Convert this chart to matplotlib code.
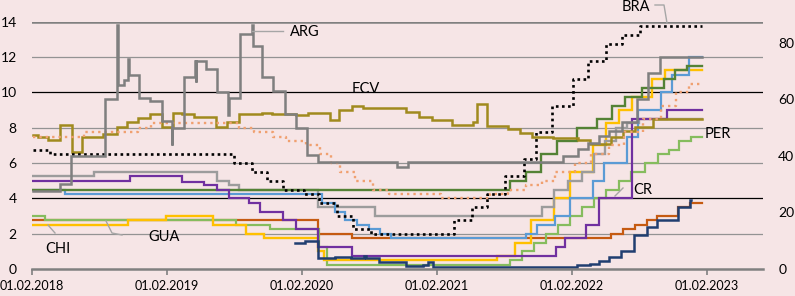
import matplotlib
matplotlib.use('Agg')
import matplotlib.pyplot as plt
import pandas as pd
from matplotlib.lines import Line2D

plt.rcParams['font.family'] = ['Lato', 'DejaVu Sans']

W, H = 795, 296
END = '2023-01-20'

# ---- left axis series (policy rate, %) ----
bra_dates = ['2018-02-05', '2018-03-22', '2019-08-01', '2019-09-19', '2019-10-31', '2019-12-12',
             '2020-02-06', '2020-03-19', '2020-05-07', '2020-06-18', '2020-08-06', '2021-03-18',
             '2021-05-06', '2021-06-17', '2021-08-05', '2021-09-23', '2021-10-28', '2021-12-09',
             '2022-02-03', '2022-03-17', '2022-05-05', '2022-06-16', '2022-08-04']
bra_vals = [6.75, 6.5, 6.0, 5.5, 5.0, 4.5, 4.25, 3.75, 3.0, 2.25, 2.0, 2.75,
            3.5, 4.25, 5.25, 6.25, 7.75, 9.25, 10.75, 11.75, 12.75, 13.25, 13.75]

mex_dates = ['2018-02-05', '2018-06-21', '2018-11-15', '2018-12-20', '2019-08-15', '2019-09-26',
             '2019-11-14', '2019-12-19', '2020-02-13', '2020-03-20', '2020-04-21', '2020-05-14',
             '2020-06-25', '2020-08-13', '2020-09-24', '2021-02-11', '2021-06-24', '2021-08-12',
             '2021-09-30', '2021-11-11', '2021-12-16', '2022-02-10', '2022-03-24', '2022-05-12',
             '2022-06-23', '2022-08-11', '2022-09-29', '2022-11-10', '2022-12-15']
mex_vals = [7.5, 7.75, 8.0, 8.25, 8.0, 7.75, 7.5, 7.25, 7.0, 6.5, 6.0, 5.5, 5.0, 4.5, 4.25,
            4.0, 4.25, 4.5, 4.75, 5.0, 5.5, 6.0, 6.5, 7.0, 7.75, 8.5, 9.25, 10.0, 10.5]

ecv_dates = ['2018-02-05', '2018-02-17', '2018-03-15', '2018-04-17', '2018-05-19', '2018-06-15',
             '2018-08-11', '2018-09-18', '2018-10-15', '2018-11-14', '2018-12-16', '2019-01-18',
             '2019-02-17', '2019-03-15', '2019-04-16', '2019-06-15', '2019-07-14', '2019-08-16',
             '2019-10-17', '2019-11-13', '2020-01-16', '2020-02-17', '2020-04-16', '2020-05-13',
             '2020-06-15', '2020-07-15', '2020-11-10', '2020-12-15', '2021-01-17', '2021-03-14',
             '2021-05-08', '2021-05-19', '2021-06-17', '2021-08-11', '2021-09-13', '2021-10-17',
             '2021-12-11', '2022-02-18', '2022-03-22', '2022-05-19', '2022-06-18', '2022-07-21',
             '2022-09-07']
ecv_vals = [7.6, 7.45, 7.3, 8.15, 6.6, 7.45, 7.65, 8.05, 8.3, 8.55, 8.75, 8.05,
            8.85, 8.8, 8.6, 8.05, 8.3, 8.75, 8.85, 8.75, 8.7, 8.85, 8.45, 9.0,
            9.2, 9.1, 8.9, 8.6, 8.45, 8.15, 8.3, 9.35, 8.1, 7.95, 7.7, 7.5,
            7.4, 7.3, 7.1, 7.5, 7.8, 8.05, 8.5]

dom_dates = ['2018-02-05', '2018-07-20', '2019-06-17', '2019-07-18', '2019-08-14', '2020-03-15',
             '2020-08-16', '2021-11-13', '2021-12-14', '2022-01-20', '2022-03-01', '2022-04-01',
             '2022-05-01', '2022-06-01', '2022-07-01', '2022-08-01']
dom_vals = [5.25, 5.5, 5.0, 4.75, 4.5, 3.5, 3.0, 3.5, 4.5, 5.0, 5.5, 6.5, 7.25, 8.0, 8.25, 8.5]

col_dates = ['2018-02-05', '2018-04-30', '2020-03-27', '2020-04-30', '2020-05-29', '2020-06-29',
             '2020-07-31', '2020-08-31', '2020-09-30', '2021-09-30', '2021-10-29', '2021-12-17',
             '2022-01-28', '2022-03-31', '2022-04-29', '2022-06-30', '2022-07-29', '2022-09-30',
             '2022-10-31', '2022-12-16']
col_vals = [4.5, 4.25, 3.75, 3.25, 2.75, 2.5, 2.25, 2.0, 1.75, 2.0, 2.5, 3.0,
            4.0, 5.0, 6.0, 7.5, 9.0, 10.0, 11.0, 12.0]

uru_dates = ['2018-02-05', '2021-08-18', '2021-09-29', '2021-11-10', '2021-12-22', '2022-02-16',
             '2022-04-10', '2022-05-21', '2022-06-25', '2022-08-09', '2022-10-08', '2022-11-07',
             '2022-12-10']
uru_vals = [4.5, 5.0, 5.5, 6.5, 7.25, 8.0, 8.5, 9.25, 9.75, 10.25, 10.75, 11.25, 11.5]

chi_dates = ['2018-02-05', '2018-10-18', '2019-01-30', '2019-06-07', '2019-09-04', '2019-10-23',
             '2020-03-16', '2020-03-31', '2021-07-14', '2021-08-31', '2021-10-13', '2021-12-14',
             '2022-01-26', '2022-03-29', '2022-05-04', '2022-06-08', '2022-07-13', '2022-09-06',
             '2022-10-12']
chi_vals = [2.5, 2.75, 3.0, 2.5, 2.0, 1.75, 1.0, 0.5, 0.75, 1.5, 2.75, 4.0,
            5.5, 7.0, 8.25, 9.0, 9.75, 10.75, 11.25]

per_dates = ['2018-02-05', '2018-03-08', '2019-08-08', '2019-11-07', '2020-03-19', '2020-04-09',
             '2021-08-17', '2021-09-19', '2021-10-22', '2021-11-24', '2021-12-26', '2022-01-28',
             '2022-03-01', '2022-04-03', '2022-05-05', '2022-06-07', '2022-07-10', '2022-08-19',
             '2022-09-21', '2022-10-21', '2022-11-17', '2022-12-20']
per_vals = [3.0, 2.75, 2.5, 2.25, 1.25, 0.25, 0.5, 1.0, 1.5, 2.0, 2.5, 3.0,
            3.5, 4.0, 4.5, 5.0, 5.5, 6.0, 6.5, 6.75, 7.25, 7.5]

gua_dates = ['2018-02-05', '2020-03-15', '2020-06-15', '2022-05-19', '2022-06-18', '2022-07-21',
             '2022-08-23', '2022-09-19', '2022-11-15', '2022-12-18']
gua_vals = [2.75, 2.0, 1.75, 2.0, 2.25, 2.5, 2.75, 3.0, 3.5, 3.75]

cr_dates = ['2018-02-05', '2018-10-25', '2019-03-15', '2019-05-12', '2019-06-17', '2019-07-18',
            '2019-09-10', '2019-10-12', '2019-12-12', '2020-01-16', '2020-03-15', '2020-06-15',
            '2021-12-20', '2022-01-13', '2022-03-12', '2022-04-16', '2022-07-14', '2022-10-15']
cr_vals = [5.0, 5.25, 4.95, 4.75, 4.5, 4.0, 3.75, 3.25, 2.75, 2.25, 1.25, 0.75,
           1.25, 1.75, 2.5, 4.0, 8.5, 9.0]

oth_dates = ['2020-01-13', '2020-02-09', '2020-03-15', '2020-05-01', '2020-06-12', '2020-07-17',
             '2020-07-25', '2020-08-27', '2020-11-09', '2020-12-25', '2021-01-08', '2021-01-20',
             '2022-02-15', '2022-03-23', '2022-04-16', '2022-05-13', '2022-06-15', '2022-07-20',
             '2022-08-22', '2022-09-18', '2022-11-14', '2022-12-17']
oth_vals = [1.45, 1.6, 0.62, 0.7, 0.65, 0.75, 0.6, 0.4, 0.15, 0.25, 0.4, 0.1,
            0.2, 0.3, 0.45, 0.7, 1.0, 1.93, 2.38, 2.8, 3.5, 3.9]
OTH_END = '2022-12-19'

# ---- right axis series (%) ----
arg_dates = ['2018-02-05', '2018-04-18', '2018-05-18', '2018-08-18', '2018-09-19', '2018-09-21',
             '2018-10-08', '2018-10-19', '2018-10-21', '2018-11-18', '2018-12-18', '2019-01-18',
             '2019-02-14', '2019-02-16', '2019-03-19', '2019-04-17', '2019-04-20', '2019-04-22',
             '2019-05-17', '2019-06-16', '2019-07-16', '2019-07-18', '2019-08-17', '2019-09-19',
             '2019-09-21', '2019-10-16', '2019-11-15', '2019-12-17', '2020-01-16', '2020-02-15',
             '2020-03-15', '2020-10-15', '2020-11-14', '2022-01-09', '2022-02-17', '2022-03-17',
             '2022-04-14', '2022-05-12', '2022-06-16', '2022-07-26', '2022-08-27', '2022-09-28']
arg_vals = [27.5, 30.25, 40, 60, 86.25, 65, 66.9, 74.4, 68.75, 60.6, 59.4, 52.5,
            43.75, 50, 68.1, 73.75, 66.25, 73.75, 70.6, 62.5, 54.4, 60.6, 83.1, 86.25,
            78.75, 67.8, 63.1, 55, 50, 40.2, 38, 36, 38, 40, 42.5, 44.5,
            47, 49, 52, 60, 69.5, 75]

years = ['2018-02-01', '2019-02-01', '2020-02-01', '2021-02-01', '2022-02-01', '2023-02-01']
left_ticks = [0, 2, 4, 6, 8, 10, 12, 14]
right_ticks = [0, 20, 40, 60, 80]

BG = '#F6E5E6'


def draw_step(ax, dates, vals, end=END, **kw):
    d = pd.to_datetime(list(dates) + [end])
    v = list(vals) + [vals[-1]]
    ax.step(d, v, where='post', solid_joinstyle='miter', **kw)


fig = plt.figure(figsize=(W / 100, H / 100), dpi=100)
fig.patch.set_facecolor(BG)
ax = fig.add_axes([32 / W, 1 - 269 / H, (763 - 32) / W, (269 - 21.7) / H])
ax.set_facecolor(BG)

# horizontal rules
for yv in left_ticks[1:-1]:
    col = 'black' if yv in (4, 10) else '#939393'
    ax.axhline(yv, color=col, lw=0.9, zorder=0)
ax.axhline(14, color='#808080', lw=1.8, zorder=0)

draw_step(ax, gua_dates, gua_vals, color='#C55A11', lw=1.6)
draw_step(ax, per_dates, per_vals, color='#86BC5E', lw=1.6)
draw_step(ax, chi_dates, chi_vals, color='#FFC000', lw=1.7)
draw_step(ax, dom_dates, dom_vals, color='#9C9C9C', lw=1.7)
draw_step(ax, col_dates, col_vals, color='#5B9BD5', lw=1.6)
draw_step(ax, uru_dates, uru_vals, color='#548235', lw=1.7)
draw_step(ax, cr_dates, cr_vals, color='#7030A0', lw=1.6)
draw_step(ax, oth_dates, oth_vals, end=OTH_END, color='#203E70', lw=1.8)
draw_step(ax, ecv_dates, ecv_vals, color='#A08A1E', lw=1.8)
draw_step(ax, mex_dates, mex_vals, color='#F0A070', lw=1.7, linestyle=(0, (1, 1.7)))
draw_step(ax, bra_dates, bra_vals, color='black', lw=1.9, linestyle=(0, (1, 1.3)))

ax.set_xlim(pd.Timestamp('2018-02-01'), pd.Timestamp('2023-07-03'))
ax.set_ylim(0, 14)
ax.set_yticks(left_ticks)
ax.set_xticks(pd.to_datetime(years))
ax.set_xticklabels([pd.Timestamp(y).strftime('%d.%m.%Y') for y in years])
for s in ['top', 'right', 'left']:
    ax.spines[s].set_visible(False)
ax.spines['bottom'].set_color('#808080')
ax.spines['bottom'].set_linewidth(1.8)
ax.tick_params(axis='x', length=4, width=1.2, color='#808080', pad=4, labelsize=9.1)
ax.tick_params(axis='y', length=0, pad=11, labelsize=10)

ax2 = ax.twinx()
draw_step(ax2, arg_dates, arg_vals, color='#7F7F7F', lw=1.8)
ax2.set_ylim(0, 87.5)
ax2.set_yticks(right_ticks)
for s in ax2.spines.values():
    s.set_visible(False)
ax2.tick_params(axis='y', length=0, pad=11, labelsize=10)


def px(x, y):
    return x / W, 1 - y / H


def connector(points, color='#A6A6A6'):
    xs = [p[0] / W for p in points]
    ys = [1 - p[1] / H for p in points]
    fig.add_artist(Line2D(xs, ys, color=color, lw=1.0))


labels = [('ARG', 290, 32), ('BRA', 622, 7), ('ECV', 352, 89), ('PER', 705, 134),
          ('CR', 633, 190), ('CHI', 45, 249), ('GUA', 148, 237)]
for txt, x, y in labels:
    fig.text(*px(x, y), txt, fontsize=10.5, ha='left', va='center')

connector([(252, 31), (283, 31)])
connector([(655, 5), (664, 5), (667, 23)])
connector([(615, 196), (623, 188)])
connector([(48, 225), (55, 233)])
connector([(106, 221), (112, 233), (122, 235)])

fig.savefig('out.png', dpi=100, facecolor=BG)
